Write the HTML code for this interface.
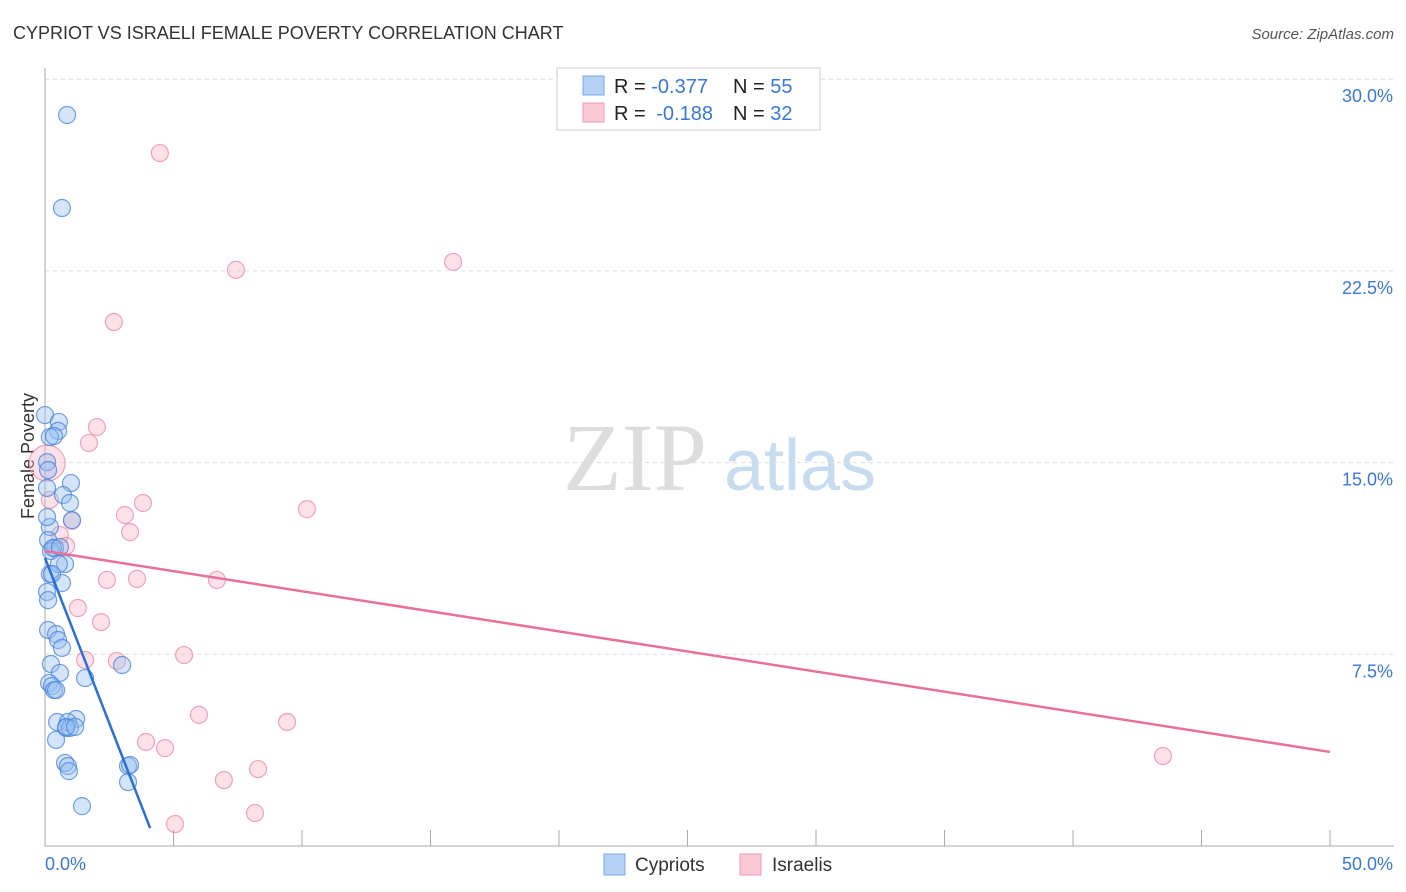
<!DOCTYPE html>
<html><head><meta charset="utf-8"><style>
body{margin:0;background:#fff;font-family:"Liberation Sans",sans-serif;}
#wrap{position:relative;width:1406px;height:892px;overflow:hidden}
</style></head><body>
<div id="wrap">
<svg id="chart" width="1406" height="892" xmlns="http://www.w3.org/2000/svg">
<text x="13" y="39" font-size="18" fill="#333">CYPRIOT VS ISRAELI FEMALE POVERTY CORRELATION CHART</text>
<text x="1394" y="39" font-size="15" fill="#555" font-style="italic" text-anchor="end">Source: ZipAtlas.com</text>
<text x="34" y="456" font-size="18" fill="#333" text-anchor="middle" transform="rotate(-90 34 456)">Female Poverty</text>
<g>
<text x="635" y="490" font-size="96" fill="#ddd" font-family="Liberation Serif,serif" text-anchor="middle">ZIP</text>
<text x="800" y="490" font-size="72" fill="#c8dcf0" text-anchor="middle">atlas</text>
</g>
<g id="grid"></g><g id="axes"></g><g id="pts"></g><g id="lines"></g>
<g>
<rect x="557" y="68" width="263" height="62" fill="#fff" stroke="#ccc"/>
<rect x="583" y="76" width="21" height="19" fill="#b7d1f5" stroke="#7aa8e8"/>
<rect x="583" y="103" width="21" height="19" fill="#fbc8d6" stroke="#ee9ab4"/>
<text x="614" y="93" font-size="20" fill="#222">R = <tspan fill="#3a78d8">-0.377</tspan><tspan x="733">N = </tspan><tspan fill="#3a78d8">55</tspan></text>
<text x="614" y="120" font-size="20" fill="#222">R = <tspan fill="#3a78d8" dx="5">-0.188</tspan><tspan x="733">N = </tspan><tspan fill="#3a78d8">32</tspan></text>
</g>
<g>
<rect x="604" y="854" width="21" height="21" fill="#b7d1f5" stroke="#7aa8e8"/>
<text x="635" y="871" font-size="19" fill="#333">Cypriots</text>
<rect x="740" y="854" width="21" height="21" fill="#fbc8d6" stroke="#ee9ab4"/>
<text x="772" y="871" font-size="19" fill="#333">Israelis</text>
</g>
</svg>
</div>
<script>
const blueX=[0.86,0.66,0,0.54,0.51,0.19,0.08,0.08,1.01,0.70,0.97,1.05,0.19,0.12,0.39,0.23,0.78,0.19,0.54,0.66,0.08,0.12,0.43,0.51,0.66,0.23,0.58,0.16,0.27,0.35,3.00,1.56,1.21,0.47,0.89,0.82,0.97,0.43,0.78,0.89,0.93,3.23,3.31,3.23,1.44,0.12,0.27,0.31,0.08,0.35,0.12,0.58,0.82,0.43,1.17];
const blueY=[28.60,24.96,16.86,16.59,16.24,16.00,15.02,14.01,14.20,13.73,13.42,12.75,12.48,11.97,11.66,11.54,11.03,10.64,11.03,10.29,9.94,8.45,8.29,8.06,7.75,7.12,6.77,6.38,6.26,6.10,7.08,6.57,4.97,4.85,4.85,4.62,4.62,4.15,3.25,3.13,2.93,3.13,3.17,2.50,1.56,9.62,10.64,11.66,12.87,16.04,14.71,11.70,4.66,6.10,4.66];
const pinkX=[4.47,7.43,15.88,2.68,2.02,1.71,3.81,3.11,3.31,10.19,1.05,0.58,0.82,2.41,3.58,6.69,1.28,2.18,1.56,2.80,5.41,5.99,9.42,3.93,4.67,8.29,6.96,8.17,5.06,43.50,0.08,0.19];
const pinkY=[27.11,22.54,22.85,20.50,16.39,15.77,13.42,12.95,12.28,13.18,12.72,12.17,11.74,10.41,10.45,10.41,9.31,8.76,7.28,7.24,7.47,5.13,4.85,4.07,3.83,3.01,2.58,1.29,0.86,3.52,14.98,13.54];
const blueTrend=[[0,11.27],[4.09,0.70]];
const pinkTrend=[[0,11.54],[50,3.68]];
const yTicks=[7.5,15,22.5,30];
const yTickLabels=["7.5%","15.0%","22.5%","30.0%"];
const xTicks=[0,5,10,15,20,25,30,35,40,45,50];
const xLabels=[[0,"0.0%"],[50,"50.0%"]];
const NS="http://www.w3.org/2000/svg";
const sx=v=>45+v*(1285/50);
const sy=v=>846-v*(191.7/7.5);
function mk(t,a,p){const e=document.createElementNS(NS,t);for(const k in a)e.setAttribute(k,a[k]);p.appendChild(e);return e;}
const grid=document.getElementById('grid'),axes=document.getElementById('axes'),pts=document.getElementById('pts'),lines=document.getElementById('lines');
yTicks.forEach((v,i)=>{
 const l=mk('line',{x1:45,x2:1394,y1:sy(v),y2:sy(v),stroke:'#ddd','stroke-dasharray':'4,4'},grid);
 
 
 const t=mk('text',{x:1393,y:sy(v)+23,'font-size':18,fill:'#3a78d8','text-anchor':'end'},axes);
 t.textContent=yTickLabels[i];
 
 
});
const ya=mk('line',{x1:45,x2:45,y1:68,y2:846,stroke:'#aaa'},axes);


const xa=mk('line',{x1:45,x2:1394,y1:846,y2:846,stroke:'#aaa'},axes);


xTicks.forEach(v=>{
 const t=mk('line',{x1:sx(v),x2:sx(v),y1:830,y2:846,stroke:'#aaa'},axes);
 
 
});
xLabels.forEach(([v,s],i)=>{
 const t=mk('text',{x:i?sx(v)+63:sx(v),y:870,'font-size':18,fill:'#3a78d8','text-anchor':i?'end':'start'},axes);
 t.textContent=s;
 
 
});
pinkX.forEach((x,i)=>{
 const big=i===30;
 const c=mk('circle',{cx:sx(x),cy:sy(pinkY[i]),r:big?18:8.5,fill:'rgba(248,180,200,0.4)',stroke:'rgba(232,130,160,0.7)','stroke-width':1.2},pts);
 
 
});
blueX.forEach((x,i)=>{
 const c=mk('circle',{cx:sx(x),cy:sy(blueY[i]),r:8.5,fill:'rgba(150,190,240,0.4)',stroke:'rgba(70,130,220,0.75)','stroke-width':1.2},pts);
 
 
});
const bl=mk('line',{x1:sx(blueTrend[0][0]),y1:sy(blueTrend[0][1]),x2:sx(blueTrend[1][0]),y2:sy(blueTrend[1][1]),stroke:'#2a6fd6','stroke-width':2.5},lines);


const pl=mk('line',{x1:sx(pinkTrend[0][0]),y1:sy(pinkTrend[0][1]),x2:sx(pinkTrend[1][0]),y2:sy(pinkTrend[1][1]),stroke:'#e8709a','stroke-width':2.5},lines);


</script>
</body></html>
